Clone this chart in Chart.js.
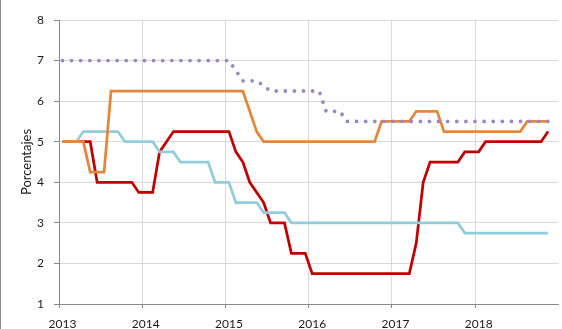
<!DOCTYPE html>
<html>
<head>
<meta charset="utf-8">
<script src="https://cdn.jsdelivr.net/npm/chart.js@4.4.1/dist/chart.umd.min.js"></script>
<style>
  html, body { margin: 0; padding: 0; background: #fff; }
  #frame { position: relative; width: 562px; height: 329px; overflow: hidden; }
  #frame::before { content: ''; position: absolute; left: 0; top: 0; width: 1px; height: 100%; background: #8c8c8c; z-index: 2; }
  #wrap { position: absolute; left: 0; top: 0; width: 564px; height: 329px; }
</style>
</head>
<body>
<div id="frame"><div id="wrap"><canvas id="rates"></canvas></div></div>
<script>
// ——— DATA ———
const years = ['2013', '2014', '2015', '2016', '2017', '2018'];
const months = ['ene', 'feb', 'mar', 'abr', 'may', 'jun', 'jul', 'ago', 'sep', 'oct', 'nov', 'dic'];

// monthly values, Jan 2013 – Nov 2018
const tasaRoja = [
    5, 5, 5, 5, 5, 4, 4, 4, 4, 4, 4, 3.75,
    3.75, 3.75, 4.75, 5, 5.25, 5.25, 5.25, 5.25, 5.25, 5.25, 5.25, 5.25,
    5.25, 4.75, 4.5, 4, 3.75, 3.5, 3, 3, 3, 2.25, 2.25, 2.25,
    1.75, 1.75, 1.75, 1.75, 1.75, 1.75, 1.75, 1.75, 1.75, 1.75, 1.75, 1.75,
    1.75, 1.75, 1.75, 2.5, 4, 4.5, 4.5, 4.5, 4.5, 4.5, 4.75, 4.75,
    4.75, 5, 5, 5, 5, 5, 5, 5, 5, 5, 5.25
];
const tasaNaranja = [
    5, 5, 5, 5, 4.25, 4.25, 4.25, 6.25, 6.25, 6.25, 6.25, 6.25,
    6.25, 6.25, 6.25, 6.25, 6.25, 6.25, 6.25, 6.25, 6.25, 6.25, 6.25, 6.25,
    6.25, 6.25, 6.25, 5.75, 5.25, 5, 5, 5, 5, 5, 5, 5,
    5, 5, 5, 5, 5, 5, 5, 5, 5, 5, 5.5, 5.5,
    5.5, 5.5, 5.5, 5.75, 5.75, 5.75, 5.75, 5.25, 5.25, 5.25, 5.25, 5.25,
    5.25, 5.25, 5.25, 5.25, 5.25, 5.25, 5.25, 5.5, 5.5, 5.5, 5.5
];
const tasaCeleste = [
    5, 5, 5, 5.25, 5.25, 5.25, 5.25, 5.25, 5.25, 5, 5, 5,
    5, 5, 4.75, 4.75, 4.75, 4.5, 4.5, 4.5, 4.5, 4.5, 4, 4,
    4, 3.5, 3.5, 3.5, 3.5, 3.25, 3.25, 3.25, 3.25, 3, 3, 3,
    3, 3, 3, 3, 3, 3, 3, 3, 3, 3, 3, 3,
    3, 3, 3, 3, 3, 3, 3, 3, 3, 3, 2.75, 2.75,
    2.75, 2.75, 2.75, 2.75, 2.75, 2.75, 2.75, 2.75, 2.75, 2.75, 2.75
];
const tasaMorada = [
    7, 7, 7, 7, 7, 7, 7, 7, 7, 7, 7, 7,
    7, 7, 7, 7, 7, 7, 7, 7, 7, 7, 7, 7,
    7, 6.75, 6.5, 6.5, 6.5, 6.375, 6.25, 6.25, 6.25, 6.25, 6.25, 6.25,
    6.25, 6.25, 5.75, 5.75, 5.75, 5.5, 5.5, 5.5, 5.5, 5.5, 5.5, 5.5,
    5.5, 5.5, 5.5, 5.5, 5.5, 5.5, 5.5, 5.5, 5.5, 5.5, 5.5, 5.5,
    5.5, 5.5, 5.5, 5.5, 5.5, 5.5, 5.5, 5.5, 5.5, 5.5, 5.5
];

const yTicks = [1, 2, 3, 4, 5, 6, 7, 8];

// one category per month; only January shows the year
const labels = [];
years.forEach(y => months.forEach(m => labels.push(m + ' ' + y)));

const FONT = 'Lato';
const GRID = '#d9d9d9';
const AXIS = '#898989';
const yearLine = c => (c.index % 12 === 0 ? GRID : 'rgba(0,0,0,0)');
const yearTick = c => (c.index % 12 === 0 ? AXIS : 'rgba(0,0,0,0)');

const line = (data, color, extra) => Object.assign({
    data,
    borderColor: color,
    borderWidth: 2.75,
    pointRadius: 0,
    tension: 0,
    fill: false
}, extra || {});

// ——— CHART ———
new Chart(document.getElementById('rates'), {
    type: 'line',
    data: {
        labels,
        datasets: [
            line(tasaMorada, '#9c87c3', { borderWidth: 3.8, borderDash: [0.01, 9.1], borderCapStyle: 'round' }),
            line(tasaNaranja, '#e3873c'),
            line(tasaCeleste, '#92cddc'),
            line(tasaRoja, '#c00000')
        ]
    },
    options: {
        responsive: true,
        maintainAspectRatio: false,
        animation: false,
        layout: { padding: { top: 20, right: 0, bottom: 0, left: 0 } },
        plugins: { legend: { display: false }, tooltip: { enabled: false } },
        scales: {
            x: {
                type: 'category',
                offset: true,
                afterFit: s => { s.height = 25; },
                border: { display: true, color: AXIS, width: 1 },
                grid: { offset: true, color: yearLine, tickColor: yearTick, tickLength: 4, lineWidth: 1 },
                ticks: {
                    autoSkip: false,
                    maxRotation: 0,
                    padding: 9,
                    color: '#1a1a1a',
                    font: { family: FONT, size: 12 },
                    callback: (v, i) => (i % 12 === 0 ? years[i / 12] : '')
                }
            },
            y: {
                min: 1,
                max: 8,
                afterFit: s => { s.width = 59; },
                afterBuildTicks: s => { s.ticks = yTicks.map(v => ({ value: v })); },
                border: { display: true, color: AXIS, width: 1 },
                grid: { color: GRID, tickColor: AXIS, tickLength: 5, lineWidth: 1 },
                ticks: { padding: 10, color: '#1a1a1a', font: { family: FONT, size: 12 } },
                title: {
                    display: true,
                    text: 'Porcentajes',
                    color: '#1a1a1a',
                    font: { family: FONT, size: 13 },
                    padding: { top: 19, bottom: 0 }
                }
            }
        }
    }
});
</script>
</body>
</html>
